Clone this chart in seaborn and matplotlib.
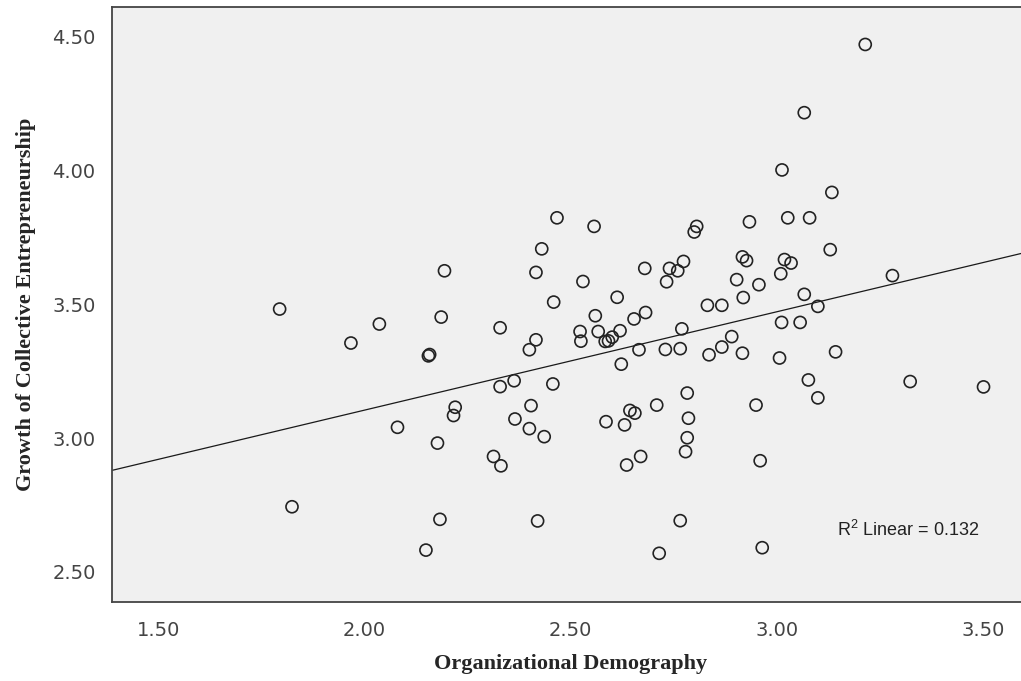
import matplotlib
matplotlib.use('Agg')
import matplotlib.pyplot as plt
import seaborn as sns
import pandas as pd

sns.set_style('white')
plt.rcParams['font.family'] = ['DejaVu Sans']
plt.rcParams['mathtext.fontset'] = 'custom'
plt.rcParams['mathtext.rm'] = 'Liberation Sans'

# values
org_demography = [
    1.794, 1.824, 1.967, 2.036, 2.080, 2.149, 2.155, 2.158, 2.177, 2.183,
    2.186, 2.194, 2.216, 2.220, 2.313, 2.329, 2.329, 2.331, 2.363, 2.365,
    2.400, 2.400, 2.404, 2.416, 2.416, 2.420, 2.430, 2.436, 2.457, 2.459,
    2.467, 2.523, 2.525, 2.530, 2.557, 2.560, 2.567, 2.584, 2.592, 2.601,
    2.586, 2.613, 2.620, 2.623, 2.631, 2.636, 2.644, 2.656, 2.654, 2.666,
    2.670, 2.680, 2.682, 2.709, 2.715, 2.730, 2.733, 2.740, 2.760, 2.766,
    2.766, 2.770, 2.774, 2.779, 2.783, 2.783, 2.786, 2.800, 2.806, 2.832,
    2.836, 2.867, 2.867, 2.891, 2.903, 2.917, 2.917, 2.919, 2.927, 2.934,
    2.950, 2.957, 2.960, 2.965, 3.007, 3.010, 3.012, 3.013, 3.019, 3.027,
    3.035, 3.057, 3.067, 3.067, 3.077, 3.080, 3.100, 3.100, 3.130, 3.134,
    3.143, 3.215, 3.281, 3.324, 3.502,
]
collective_growth = [
    3.482, 2.743, 3.355, 3.426, 3.040, 2.581, 3.307, 3.312, 2.981, 2.696,
    3.452, 3.625, 3.084, 3.115, 2.931, 3.412, 3.192, 2.896, 3.214, 3.071,
    3.330, 3.035, 3.121, 3.619, 3.367, 2.690, 3.707, 3.005, 3.202, 3.508,
    3.823, 3.398, 3.362, 3.585, 3.791, 3.457, 3.398, 3.361, 3.363, 3.377,
    3.061, 3.526, 3.401, 3.276, 3.049, 2.899, 3.103, 3.093, 3.445, 3.330,
    2.931, 3.634, 3.469, 3.123, 2.569, 3.331, 3.584, 3.634, 3.625, 3.334,
    2.691, 3.408, 3.660, 2.949, 3.001, 3.168, 3.074, 3.770, 3.791, 3.496,
    3.311, 3.496, 3.340, 3.379, 3.592, 3.677, 3.317, 3.525, 3.663, 3.808,
    3.123, 3.573, 2.915, 2.590, 3.299, 3.614, 3.432, 4.002, 3.667, 3.823,
    3.654, 3.432, 3.537, 4.216, 3.217, 3.823, 3.492, 3.150, 3.704, 3.918,
    3.322, 4.471, 3.607, 3.211, 3.191,
]
x_ticks = [1.5, 2.0, 2.5, 3.0, 3.5]
y_ticks = [2.5, 3.0, 3.5, 4.0, 4.5]
r2_label = r'R$^{\mathrm{2}}$ Linear = 0.132'

df = pd.DataFrame({'Organizational Demography': org_demography,
                   'Growth of Collective Entrepreneurship': collective_growth})

fig = plt.figure(figsize=(10.21, 6.81), dpi=100)
ax = fig.add_axes([0.110, 0.1164, 0.8977, 0.8737])
ax.set_facecolor('#f0f0f0')
ax.set_xlim(1.388, 3.612)
ax.set_ylim(2.388, 4.612)

sns.scatterplot(data=df, x='Organizational Demography',
                y='Growth of Collective Entrepreneurship', ax=ax,
                marker='o', s=75, facecolor='none', edgecolor='#222222',
                linewidth=1.2, zorder=3)
sns.regplot(data=df, x='Organizational Demography',
            y='Growth of Collective Entrepreneurship', ax=ax,
            scatter=False, ci=None, truncate=False,
            line_kws={'color': '#1a1a1a', 'linewidth': 0.9})

ax.set_xlim(1.388, 3.612)
ax.set_ylim(2.388, 4.612)
ax.set_xticks(x_ticks)
ax.set_yticks(y_ticks)
ax.set_xticklabels(['%.2f' % v for v in x_ticks])
ax.set_yticklabels(['%.2f' % v for v in y_ticks])
ax.tick_params(axis='both', direction='out', length=10, width=1.3,
               color='#333333', labelcolor='#444444', labelsize=14)
ax.tick_params(axis='x', pad=4)
ax.tick_params(axis='y', pad=2)

for side in ['left', 'bottom', 'top']:
    ax.spines[side].set_color('#444444')
    ax.spines[side].set_linewidth(1.3)
ax.spines['right'].set_visible(False)

lab_font = {'family': 'Liberation Serif', 'weight': 'bold', 'size': 16}
ax.set_xlabel('Organizational Demography', fontdict=lab_font, labelpad=10)
ax.set_ylabel('Growth of Collective Entrepreneurship', fontdict=lab_font, labelpad=12)

ax.text(3.146, 2.656, r2_label, ha='left', va='center', fontsize=13,
        family='Liberation Sans', color='#222222')

fig.savefig('out.png', dpi=100)
